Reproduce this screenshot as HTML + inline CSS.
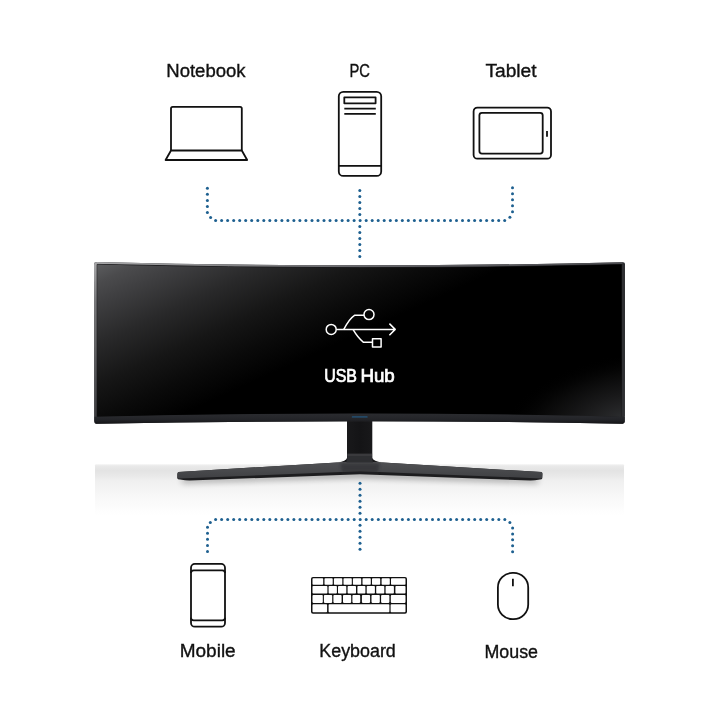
<!DOCTYPE html>
<html><head><meta charset="utf-8"><style>
html,body{margin:0;padding:0;background:#fff;width:720px;height:720px;overflow:hidden}
svg{position:absolute;left:0;top:0;will-change:transform}
text{font-family:"Liberation Sans",sans-serif}
</style></head><body>
<svg width="720" height="720" viewBox="0 0 720 720">
<defs>
<linearGradient id="floor" gradientUnits="userSpaceOnUse" x1="0" y1="464" x2="0" y2="515">
<stop offset="0" stop-color="#f4f4f4"/>
<stop offset="0.04" stop-color="#e9e9e9"/>
<stop offset="0.13" stop-color="#e3e3e3"/>
<stop offset="0.22" stop-color="#e8e8e8"/>
<stop offset="0.32" stop-color="#efefef"/>
<stop offset="0.6" stop-color="#f7f7f7"/>
<stop offset="1" stop-color="#ffffff"/>
</linearGradient>
<linearGradient id="glowTL" gradientUnits="userSpaceOnUse" x1="97" y1="264" x2="168.2" y2="420.5">
<stop offset="0" stop-color="#5c5d5f"/>
<stop offset="0.1" stop-color="#4b4b4d"/>
<stop offset="0.21" stop-color="#3f3f41"/>
<stop offset="0.42" stop-color="#29292a"/>
<stop offset="0.64" stop-color="#161616"/>
<stop offset="0.82" stop-color="#0a0a0a"/>
<stop offset="1" stop-color="#000"/>
</linearGradient>
<radialGradient id="glowBR" gradientUnits="userSpaceOnUse" cx="0" cy="0" r="1" gradientTransform="translate(622 417) rotate(-12) scale(125 62)">
<stop offset="0" stop-color="#2b2c2e"/>
<stop offset="0.35" stop-color="#19191a"/>
<stop offset="0.7" stop-color="#080808"/>
<stop offset="1" stop-color="#000" stop-opacity="0"/>
</radialGradient>
<linearGradient id="rimT" gradientUnits="userSpaceOnUse" x1="94" y1="0" x2="625" y2="0">
<stop offset="0" stop-color="#a8a8aa"/>
<stop offset="0.22" stop-color="#8a8a8c"/>
<stop offset="0.5" stop-color="#66666a"/>
<stop offset="1" stop-color="#4a4a4e"/>
</linearGradient>
<linearGradient id="rimL" gradientUnits="userSpaceOnUse" x1="0" y1="262" x2="0" y2="422">
<stop offset="0" stop-color="#a8a8aa"/>
<stop offset="0.25" stop-color="#7a7a7c"/>
<stop offset="0.5" stop-color="#666668"/>
<stop offset="1" stop-color="#3a3a3d"/>
</linearGradient>
<linearGradient id="bez" x1="0" y1="0" x2="0" y2="1">
<stop offset="0" stop-color="#2b2c30"/>
<stop offset="0.6" stop-color="#232428"/>
<stop offset="1" stop-color="#141416"/>
</linearGradient>
<linearGradient id="base" gradientUnits="userSpaceOnUse" x1="0" y1="462" x2="0" y2="479">
<stop offset="0" stop-color="#505154"/>
<stop offset="0.5" stop-color="#48494c"/>
<stop offset="1" stop-color="#3e3f42"/>
</linearGradient>
<linearGradient id="neck" x1="0" y1="0" x2="1" y2="0">
<stop offset="0" stop-color="#2a2a2c"/>
<stop offset="0.1" stop-color="#1a1a1c"/>
<stop offset="0.5" stop-color="#141416"/>
<stop offset="0.9" stop-color="#1a1a1c"/>
<stop offset="1" stop-color="#2a2a2c"/>
</linearGradient>
<filter id="blur2" x="-10%" y="-200%" width="120%" height="500%"><feGaussianBlur stdDeviation="2.2"/></filter>
<filter id="blur1" x="-20%" y="-50%" width="140%" height="200%"><feGaussianBlur stdDeviation="1.5"/></filter>
<filter id="blur3" x="-10%" y="-300%" width="120%" height="700%"><feGaussianBlur stdDeviation="3"/></filter>
</defs>

<!-- floor -->
<rect x="95" y="464.2" width="529" height="51" rx="1" fill="url(#floor)"/>

<!-- stand neck -->
<path d="M347 419 L372.3 419 L372.3 458 Q373.5 461.5 382 462.4 L338 462.4 Q346 461.5 347 458 Z" fill="url(#neck)"/>
<rect x="347.2" y="453.6" width="24.9" height="2.4" fill="#3a3a3d"/>
<rect x="347.2" y="456" width="24.9" height="6" fill="#2e2f32"/>
<!-- stand shadow -->
<path d="M182 479 L360 473 L538 479 L538 482.5 L360 477 L182 482.5 Z" fill="#000" opacity="0.42" filter="url(#blur3)"/>
<!-- stand base: dark underside -->
<path d="M178.5 472.1 L337 462.4 L383 462.4 L541.5 472.1 Q542.5 472.6 542.4 474 L542.2 478.4 Q542 479.4 540 479.6 Q534 480.6 530 480.5 L360 474.3 L190 480.5 Q186 480.6 180 479.6 Q177.3 479.4 177.3 478.2 L177.4 474 Q177.5 472.6 178.5 472.1 Z" fill="#1d1d1f"/>
<!-- stand base: top face -->
<path d="M178.5 472.1 L337 462.4 L383 462.4 L541.5 472.1 Q542.5 472.6 542.4 474 L542.2 477.8 Q542 478.6 541 478.4 L360 471.3 L179 478.4 Q177.5 478.6 177.4 477.6 L177.4 474 Q177.5 472.6 178.5 472.1 Z" fill="url(#base)"/>
<path d="M347 459.5 L372.3 459.5 L373 462.4 L346.3 462.4 Z" fill="#2e2f32"/>
<path d="M340 463 L380 463 L378 472 L342 472 Z" fill="#2a2b2e" opacity="0.6" filter="url(#blur1)"/>

<!-- monitor body -->
<path d="M96 262 Q360 268.6 623.2 262.2 Q625 262.2 625 264 L624.8 421.6 Q624.7 423.7 622.6 423.7 Q360 418.8 96.5 423.7 Q94.3 423.7 94.3 421.4 L94 264.5 Q94 262 96 262 Z" fill="#2c2d30"/>
<!-- top rim -->
<path d="M96 262 Q360 268.6 623.2 262.2 L622 264.6 Q360 271 97 264.6 Z" fill="url(#rimT)"/>
<!-- left rim -->
<path d="M94 264.5 Q94 262 96 262 L97.2 263.5 L97.2 420 L94.3 421 Z" fill="url(#rimL)"/>
<path d="M97.2 264.4 Q360 271 621.8 264.6 L621.8 417 Q360 410.6 97.2 417 Z" fill="#000" stroke="#18181a" stroke-width="1"/>
<path d="M97.2 264.4 Q360 271 621.8 264.6 L621.8 417 Q360 410.6 97.2 417 Z" fill="url(#glowTL)"/>
<path d="M97.2 264.4 Q360 271 621.8 264.6 L621.8 417 Q360 410.6 97.2 417 Z" fill="url(#glowBR)"/>
<!-- bottom bezel -->
<path d="M94.5 416.7 Q360 410.3 624.8 416.7 L624.7 421.6 Q624.6 423.7 622.6 423.7 Q360 418.8 96.5 423.7 Q94.4 423.7 94.4 421.4 Z" fill="url(#bez)"/>
<!-- right bezel -->
<path d="M621.8 264.4 L625 264 L624.8 416.5 L621.8 416.7 Z" fill="#2e2f32"/>
<!-- logo -->
<rect x="351.8" y="416" width="15.8" height="1.8" rx="0.5" fill="#215d8c" opacity="0.6"/>

<!-- dotted connectors -->
<g fill="#1e6090">
<circle cx="207.4" cy="188.3" r="1.5"/>
<circle cx="207.4" cy="194.3" r="1.5"/>
<circle cx="207.4" cy="200.4" r="1.5"/>
<circle cx="207.4" cy="206.4" r="1.5"/>
<circle cx="207.4" cy="212.4" r="1.5"/>
<circle cx="210.6" cy="217.6" r="1.5"/>
<circle cx="215.6" cy="220.4" r="1.5"/>
<circle cx="221.6" cy="220.4" r="1.5"/>
<circle cx="227.6" cy="220.4" r="1.5"/>
<circle cx="233.7" cy="220.4" r="1.5"/>
<circle cx="239.7" cy="220.4" r="1.5"/>
<circle cx="245.7" cy="220.4" r="1.5"/>
<circle cx="251.7" cy="220.4" r="1.5"/>
<circle cx="257.8" cy="220.4" r="1.5"/>
<circle cx="263.8" cy="220.4" r="1.5"/>
<circle cx="269.8" cy="220.4" r="1.5"/>
<circle cx="275.8" cy="220.4" r="1.5"/>
<circle cx="281.9" cy="220.4" r="1.5"/>
<circle cx="287.9" cy="220.4" r="1.5"/>
<circle cx="293.9" cy="220.4" r="1.5"/>
<circle cx="299.9" cy="220.4" r="1.5"/>
<circle cx="305.9" cy="220.4" r="1.5"/>
<circle cx="312.0" cy="220.4" r="1.5"/>
<circle cx="318.0" cy="220.4" r="1.5"/>
<circle cx="324.0" cy="220.4" r="1.5"/>
<circle cx="330.0" cy="220.4" r="1.5"/>
<circle cx="336.1" cy="220.4" r="1.5"/>
<circle cx="342.1" cy="220.4" r="1.5"/>
<circle cx="348.1" cy="220.4" r="1.5"/>
<circle cx="354.1" cy="220.4" r="1.5"/>
<circle cx="360.1" cy="220.4" r="1.5"/>
<circle cx="366.2" cy="220.4" r="1.5"/>
<circle cx="372.2" cy="220.4" r="1.5"/>
<circle cx="378.2" cy="220.4" r="1.5"/>
<circle cx="384.2" cy="220.4" r="1.5"/>
<circle cx="390.3" cy="220.4" r="1.5"/>
<circle cx="396.3" cy="220.4" r="1.5"/>
<circle cx="402.3" cy="220.4" r="1.5"/>
<circle cx="408.3" cy="220.4" r="1.5"/>
<circle cx="414.4" cy="220.4" r="1.5"/>
<circle cx="420.4" cy="220.4" r="1.5"/>
<circle cx="426.4" cy="220.4" r="1.5"/>
<circle cx="432.4" cy="220.4" r="1.5"/>
<circle cx="438.4" cy="220.4" r="1.5"/>
<circle cx="444.5" cy="220.4" r="1.5"/>
<circle cx="450.5" cy="220.4" r="1.5"/>
<circle cx="456.5" cy="220.4" r="1.5"/>
<circle cx="462.5" cy="220.4" r="1.5"/>
<circle cx="468.6" cy="220.4" r="1.5"/>
<circle cx="474.6" cy="220.4" r="1.5"/>
<circle cx="480.6" cy="220.4" r="1.5"/>
<circle cx="486.6" cy="220.4" r="1.5"/>
<circle cx="492.7" cy="220.4" r="1.5"/>
<circle cx="498.7" cy="220.4" r="1.5"/>
<circle cx="504.7" cy="220.4" r="1.5"/>
<circle cx="509.9" cy="217.3" r="1.5"/>
<circle cx="512.5" cy="211.8" r="1.5"/>
<circle cx="512.5" cy="205.8" r="1.5"/>
<circle cx="512.5" cy="199.8" r="1.5"/>
<circle cx="512.5" cy="193.8" r="1.5"/>
<circle cx="512.5" cy="187.8" r="1.5"/>
<circle cx="359.8" cy="190.4" r="1.5"/>
<circle cx="359.8" cy="196.4" r="1.5"/>
<circle cx="359.8" cy="202.4" r="1.5"/>
<circle cx="359.8" cy="208.4" r="1.5"/>
<circle cx="359.8" cy="214.4" r="1.5"/>
<circle cx="359.8" cy="226.5" r="1.5"/>
<circle cx="359.8" cy="232.5" r="1.5"/>
<circle cx="359.8" cy="238.5" r="1.5"/>
<circle cx="359.8" cy="244.5" r="1.5"/>
<circle cx="359.8" cy="250.5" r="1.5"/>
<circle cx="359.8" cy="256.5" r="1.5"/>
<circle cx="207.5" cy="551.4" r="1.5"/>
<circle cx="207.5" cy="545.4" r="1.5"/>
<circle cx="207.5" cy="539.3" r="1.5"/>
<circle cx="207.5" cy="533.2" r="1.5"/>
<circle cx="207.5" cy="527.2" r="1.5"/>
<circle cx="210.3" cy="522.4" r="1.5"/>
<circle cx="215.6" cy="519.5" r="1.5"/>
<circle cx="221.6" cy="519.5" r="1.5"/>
<circle cx="227.7" cy="519.5" r="1.5"/>
<circle cx="233.7" cy="519.5" r="1.5"/>
<circle cx="239.7" cy="519.5" r="1.5"/>
<circle cx="245.7" cy="519.5" r="1.5"/>
<circle cx="251.8" cy="519.5" r="1.5"/>
<circle cx="257.8" cy="519.5" r="1.5"/>
<circle cx="263.8" cy="519.5" r="1.5"/>
<circle cx="269.8" cy="519.5" r="1.5"/>
<circle cx="275.9" cy="519.5" r="1.5"/>
<circle cx="281.9" cy="519.5" r="1.5"/>
<circle cx="287.9" cy="519.5" r="1.5"/>
<circle cx="293.9" cy="519.5" r="1.5"/>
<circle cx="300.0" cy="519.5" r="1.5"/>
<circle cx="306.0" cy="519.5" r="1.5"/>
<circle cx="312.0" cy="519.5" r="1.5"/>
<circle cx="318.0" cy="519.5" r="1.5"/>
<circle cx="324.1" cy="519.5" r="1.5"/>
<circle cx="330.1" cy="519.5" r="1.5"/>
<circle cx="336.1" cy="519.5" r="1.5"/>
<circle cx="342.1" cy="519.5" r="1.5"/>
<circle cx="348.1" cy="519.5" r="1.5"/>
<circle cx="354.2" cy="519.5" r="1.5"/>
<circle cx="360.2" cy="519.5" r="1.5"/>
<circle cx="366.2" cy="519.5" r="1.5"/>
<circle cx="372.2" cy="519.5" r="1.5"/>
<circle cx="378.3" cy="519.5" r="1.5"/>
<circle cx="384.3" cy="519.5" r="1.5"/>
<circle cx="390.3" cy="519.5" r="1.5"/>
<circle cx="396.4" cy="519.5" r="1.5"/>
<circle cx="402.4" cy="519.5" r="1.5"/>
<circle cx="408.4" cy="519.5" r="1.5"/>
<circle cx="414.4" cy="519.5" r="1.5"/>
<circle cx="420.5" cy="519.5" r="1.5"/>
<circle cx="426.5" cy="519.5" r="1.5"/>
<circle cx="432.5" cy="519.5" r="1.5"/>
<circle cx="438.5" cy="519.5" r="1.5"/>
<circle cx="444.6" cy="519.5" r="1.5"/>
<circle cx="450.6" cy="519.5" r="1.5"/>
<circle cx="456.6" cy="519.5" r="1.5"/>
<circle cx="462.6" cy="519.5" r="1.5"/>
<circle cx="468.7" cy="519.5" r="1.5"/>
<circle cx="474.7" cy="519.5" r="1.5"/>
<circle cx="480.7" cy="519.5" r="1.5"/>
<circle cx="486.7" cy="519.5" r="1.5"/>
<circle cx="492.8" cy="519.5" r="1.5"/>
<circle cx="498.8" cy="519.5" r="1.5"/>
<circle cx="504.8" cy="519.5" r="1.5"/>
<circle cx="509.9" cy="522.6" r="1.5"/>
<circle cx="512.6" cy="527.9" r="1.5"/>
<circle cx="512.6" cy="533.9" r="1.5"/>
<circle cx="512.6" cy="539.8" r="1.5"/>
<circle cx="512.6" cy="545.8" r="1.5"/>
<circle cx="512.6" cy="551.7" r="1.5"/>
<circle cx="360.0" cy="483.3" r="1.5"/>
<circle cx="360.0" cy="489.3" r="1.5"/>
<circle cx="360.0" cy="495.3" r="1.5"/>
<circle cx="360.0" cy="501.3" r="1.5"/>
<circle cx="360.0" cy="507.3" r="1.5"/>
<circle cx="360.0" cy="513.3" r="1.5"/>
<circle cx="360.0" cy="525.3" r="1.5"/>
<circle cx="360.0" cy="531.3" r="1.5"/>
<circle cx="360.0" cy="537.3" r="1.5"/>
<circle cx="360.0" cy="543.3" r="1.5"/>
<circle cx="360.0" cy="549.3" r="1.5"/>
</g>

<!-- icons -->
<g fill="none" stroke="#111" stroke-width="1.8" stroke-linejoin="round">
<!-- notebook -->
<path d="M171 150.5 L171 108.5 Q171 106.8 172.7 106.8 L240.1 106.8 Q241.8 106.8 241.8 108.5 L241.8 150.5"/>
<path d="M171 150.5 L241.8 150.5 L247.2 160 L165.6 160 Z"/>
<!-- PC -->
<rect x="338.8" y="91.8" width="42.4" height="84.1" rx="4.5"/>
<rect x="344.3" y="97.3" width="31.3" height="6"/>
<path d="M344.3 108.7 L375.8 108.7 M344.3 113.9 L375.8 113.9 M338.8 165.8 L381.2 165.8"/>
<!-- tablet -->
<rect x="473.6" y="107.6" width="77.4" height="51.1" rx="3.8"/>
<rect x="479.4" y="112.8" width="63.3" height="40.8" rx="2.5"/>
<path d="M547 131 L547 136.8"/>
<!-- mobile -->
<rect x="191" y="563.9" width="34" height="62.8" rx="3.8"/>
<path d="M191 573.1 Q191 570.4 193.7 570.4 L222.3 570.4 Q225 570.4 225 573.1 M191 617.7 Q191 620.4 193.7 620.4 L222.3 620.4 Q225 620.4 225 617.7"/>
<!-- mouse -->
<rect x="497.9" y="572.9" width="30.3" height="46.3" rx="14.6"/>
<path d="M512.9 578.7 L512.9 586.3"/>
</g>

<!-- keyboard -->
<rect x="311" y="577" width="96" height="36.7" rx="2" fill="#111"/>
<g fill="#fff">
<rect x="312.5" y="578.3" width="10.7" height="6.4" rx="0.8"/>
<rect x="324.5" y="578.3" width="8.2" height="6.4" rx="0.8"/>
<rect x="333.9" y="578.3" width="8.4" height="6.4" rx="0.8"/>
<rect x="343.5" y="578.3" width="8.3" height="6.4" rx="0.8"/>
<rect x="352.9" y="578.3" width="8.3" height="6.4" rx="0.8"/>
<rect x="362.5" y="578.3" width="8.3" height="6.4" rx="0.8"/>
<rect x="372" y="578.3" width="8.2" height="6.4" rx="0.8"/>
<rect x="381.6" y="578.3" width="8.2" height="6.4" rx="0.8"/>
<rect x="391" y="578.3" width="14.5" height="6.4" rx="0.8"/>
<rect x="312.5" y="585.9" width="14.9" height="7.7" rx="0.8"/>
<rect x="328.6" y="585.9" width="8.3" height="7.7" rx="0.8"/>
<rect x="338" y="585.9" width="8.3" height="7.7" rx="0.8"/>
<rect x="347.6" y="585.9" width="8.4" height="7.7" rx="0.8"/>
<rect x="357.4" y="585.9" width="8.0" height="7.7" rx="0.8"/>
<rect x="366.7" y="585.9" width="8.2" height="7.7" rx="0.8"/>
<rect x="376.2" y="585.9" width="8.1" height="7.7" rx="0.8"/>
<rect x="385.6" y="585.9" width="8.3" height="7.7" rx="0.8"/>
<rect x="395.4" y="585.9" width="10.1" height="7.7" rx="0.8"/>
<rect x="312.5" y="595.1" width="10.3" height="7.8" rx="0.8"/>
<rect x="323.9" y="595.1" width="8.3" height="7.8" rx="0.8"/>
<rect x="333.4" y="595.1" width="8.2" height="7.8" rx="0.8"/>
<rect x="343" y="595.1" width="8.2" height="7.8" rx="0.8"/>
<rect x="352.4" y="595.1" width="7.8" height="7.8" rx="0.8"/>
<rect x="361.9" y="595.1" width="8.2" height="7.8" rx="0.8"/>
<rect x="371.5" y="595.1" width="8.3" height="7.8" rx="0.8"/>
<rect x="381.1" y="595.1" width="8.3" height="7.8" rx="0.8"/>
<rect x="390.8" y="595.1" width="14.7" height="7.8" rx="0.8"/>
<rect x="312.5" y="604.3" width="14.6" height="8.0" rx="0.8"/>
<rect x="328.6" y="604.3" width="60.8" height="8.0" rx="0.8"/>
<rect x="390.6" y="604.3" width="14.9" height="8.0" rx="0.8"/>
</g>

<!-- USB icon -->
<g fill="none" stroke="#fff" stroke-width="1.5" stroke-linejoin="round">
<circle cx="331.2" cy="329.4" r="5"/>
<path d="M336.2 329.4 L395 329.4 M389.4 323.6 L395.2 329.4 L389.4 335.2"/>
<path d="M343.8 329.4 Q349 319 354.5 315.3 L364 315.3"/>
<circle cx="369" cy="314.6" r="5"/>
<path d="M353 329.4 Q358 338 363.5 342.3 L372.5 342.3"/>
<rect x="372.5" y="338.8" width="8.6" height="8.2"/>
</g>

<!-- text -->
<g font-size="18" fill="#111" stroke="#111" stroke-width="0.35">
<text x="166.3" y="76.8" textLength="79.3" lengthAdjust="spacingAndGlyphs">Notebook</text>
<text x="349.5" y="76.6" textLength="20.5" lengthAdjust="spacingAndGlyphs">PC</text>
<text x="485.4" y="77" textLength="51.2" lengthAdjust="spacingAndGlyphs">Tablet</text>
<text x="179.7" y="656.8" textLength="56" lengthAdjust="spacingAndGlyphs">Mobile</text>
<text x="319.3" y="656.9" textLength="76.5" lengthAdjust="spacingAndGlyphs">Keyboard</text>
<text x="484.5" y="657.7" textLength="53.5" lengthAdjust="spacingAndGlyphs">Mouse</text>
</g>
<g font-size="17.5" fill="#fff" stroke="#fff" stroke-width="0.7">
<text x="324.2" y="382.3" textLength="32.8" lengthAdjust="spacingAndGlyphs">USB</text>
<text x="360.4" y="382.3" textLength="34.4" lengthAdjust="spacingAndGlyphs">Hub</text>
</g>
</svg>
</body></html>
